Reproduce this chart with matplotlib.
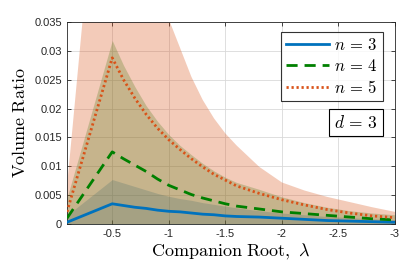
import numpy as np
import matplotlib
matplotlib.use('Agg')
import matplotlib.pyplot as plt

plt.rcParams['mathtext.fontset'] = 'cm'
plt.rcParams['font.family'] = ['Liberation Sans', 'DejaVu Sans']

# companion root values (x axis)
lam = [-0.1, -0.5, -0.6, -0.7, -0.8, -0.9, -1.0, -1.1, -1.2, -1.3, -1.4, -1.5,
       -1.6, -1.8, -2.0, -2.2, -2.4, -2.6, -2.8, -3.0]

# mean volume ratio per n
ratio_n3 = [0.0003, 0.0035, 0.0032, 0.0029, 0.0027, 0.0024, 0.0022, 0.0021, 0.0019, 0.0017,
            0.0016, 0.0014, 0.0013, 0.0012, 0.0010, 0.0008, 0.0006, 0.0005, 0.0004, 0.0003]
ratio_n4 = [0.0010, 0.0125, 0.0113, 0.0102, 0.0091, 0.0078, 0.0067, 0.0059, 0.0051, 0.0045,
            0.0040, 0.0035, 0.0031, 0.0026, 0.0021, 0.0018, 0.0015, 0.0012, 0.0009, 0.0007]
ratio_n5 = [0.0021, 0.0288, 0.0250, 0.0218, 0.0190, 0.0166, 0.0146, 0.0129, 0.0113, 0.0099,
            0.0086, 0.0076, 0.0066, 0.0053, 0.0042, 0.0033, 0.0025, 0.0019, 0.0014, 0.0011]

# upper edge of the spread bands (lower edge sits at/below zero)
upper_n3 = [0.0015, 0.0077, 0.0071, 0.0065, 0.0059, 0.0053, 0.0048, 0.0044, 0.0041, 0.0037,
            0.0034, 0.0031, 0.0028, 0.0023, 0.0019, 0.0016, 0.0013, 0.0011, 0.0009, 0.0007]
upper_n4 = [0.0045, 0.0318, 0.0275, 0.0238, 0.0205, 0.0178, 0.0155, 0.0136, 0.0120, 0.0105,
            0.0092, 0.0081, 0.0072, 0.0060, 0.0047, 0.0037, 0.0029, 0.0023, 0.0019, 0.0016]
upper_n5 = [0.0065, 0.0900, 0.0770, 0.0630, 0.0520, 0.0420, 0.0355, 0.0305, 0.0255, 0.0215,
            0.0183, 0.0157, 0.0136, 0.0099, 0.0072, 0.0058, 0.0047, 0.0038, 0.0029, 0.0021]

x_ticks = [-0.5, -1, -1.5, -2, -2.5, -3]
x_tick_labels = ['-0.5', '-1', '-1.5', '-2', '-2.5', '-3']
y_ticks = [0, 0.005, 0.01, 0.015, 0.02, 0.025, 0.03, 0.035]
y_tick_labels = ['0', '0.005', '0.01', '0.015', '0.02', '0.025', '0.03', '0.035']

c_blue = (0.0, 0.447, 0.741)
c_green = (0.0, 0.5, 0.0)
c_orange = (0.85, 0.325, 0.098)

fig = plt.figure(figsize=(4.07, 2.72), dpi=100)
ax = fig.add_axes([0.1646, 0.1765, 0.8059, 0.7425])

zero = np.zeros(len(lam))
ax.fill_between(lam, zero, upper_n3, color=c_blue, alpha=0.25, linewidth=0, zorder=1)
ax.fill_between(lam, zero, upper_n4, color=c_green, alpha=0.25, linewidth=0, zorder=1)
ax.fill_between(lam, zero, upper_n5, color=c_orange, alpha=0.3, linewidth=0, zorder=1)

ax.plot(lam, ratio_n3, color=c_blue, linewidth=2, label=r'$n\,=\,3$', zorder=3)
ax.plot(lam, ratio_n4, color=c_green, linewidth=2, linestyle=(0, (4, 2.5)), label=r'$n\,=\,4$', zorder=3)
ax.plot(lam, ratio_n5, color=c_orange, linewidth=2, linestyle=(0, (0.8, 1.0)), label=r'$n\,=\,5$', zorder=3)

ax.set_xlim(-0.1, -3)
ax.set_ylim(0, 0.035)
ax.set_xticks(x_ticks)
ax.set_xticklabels(x_tick_labels)
ax.set_yticks(y_ticks)
ax.set_yticklabels(y_tick_labels)
ax.tick_params(direction='in', top=True, right=True, labelsize=8, length=3,
               colors=(0.15, 0.15, 0.15), width=0.6)
ax.grid(True, color=(0.85, 0.85, 0.85), linewidth=0.6, zorder=0)
ax.set_axisbelow(True)
for s in ax.spines.values():
    s.set_color((0.15, 0.15, 0.15))
    s.set_linewidth(0.6)

ax.set_xlabel(r'$\mathrm{Companion\ Root,}\ \lambda$', fontsize=13, labelpad=2)
ax.set_ylabel(r'$\mathrm{Volume\ Ratio}$', fontsize=13, labelpad=4)

leg = ax.legend(loc='upper right', bbox_to_anchor=(0.963, 0.95), fontsize=12,
                frameon=True, fancybox=False, handlelength=2.6, handletextpad=0.3,
                borderpad=0.3, labelspacing=0.3, borderaxespad=0)
leg.get_frame().set_edgecolor('black')
leg.get_frame().set_linewidth(0.8)

ax.text(0.948, 0.502, r'$d\,=\,3$', transform=ax.transAxes, ha='right', va='center',
        fontsize=12.5, zorder=5,
        bbox=dict(boxstyle='square,pad=0.3', facecolor='white', edgecolor='black', linewidth=0.8))

fig.savefig('out.png', dpi=100)
